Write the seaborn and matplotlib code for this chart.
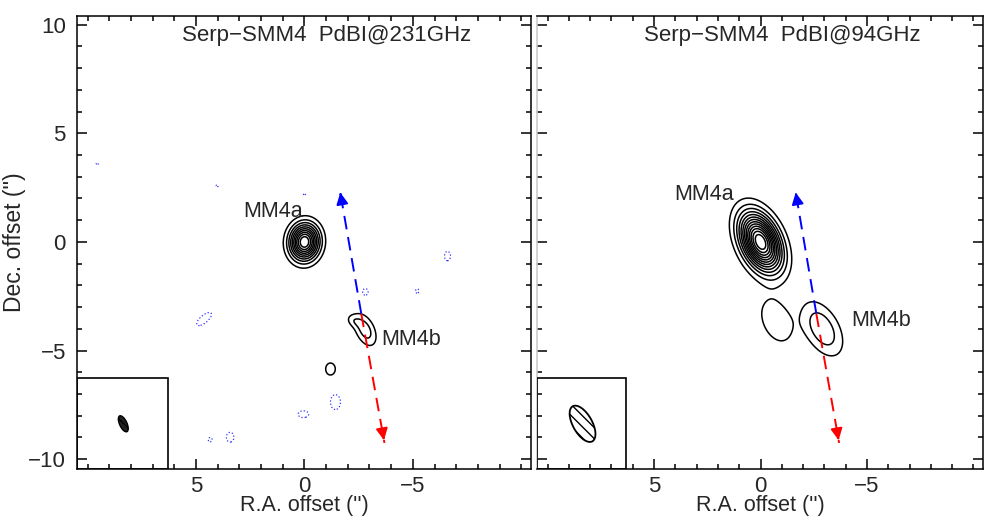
import numpy as np
import seaborn as sns
import matplotlib
matplotlib.use("Agg")
import matplotlib.pyplot as plt
from matplotlib.patches import Rectangle, Ellipse
from matplotlib.ticker import MultipleLocator

sns.set_style("white")
plt.rcParams['font.family'] = ['Liberation Sans', 'DejaVu Sans']

# sources: x, y ("), peak, fwhm major, fwhm minor ("), major-axis angle (deg, data frame)
src231_x = [0.0, -2.8, -2.25, -1.2]
src231_y = [0.0, -4.05, -3.62, -5.85]
src231_peak = [11.0, 2.6, 1.1, 1.3]
src231_fmaj = [1.3, 1.3, 0.6, 0.9]
src231_fmin = [1.05, 0.72, 0.45, 0.72]
src231_ang = [95, 65, 30, 90]

# negative (dotted) blobs in the 231 GHz map
neg231_x = [4.63, -1.43, 0.05, 3.43, 4.35, -2.81, -5.2, -6.6, 9.56, 4.03, 0.0]
neg231_y = [-3.55, -7.37, -7.93, -8.99, -9.1, -2.3, -2.26, -0.65, 3.6, 2.58, 2.2]
neg231_depth = [1.5, 1.5, 1.4, 1.4, 1.15, 1.25, 1.15, 1.3, 1.05, 1.05, 1.05]
neg231_fmaj = [1.1, 0.9, 0.7, 0.65, 0.45, 0.55, 0.45, 0.7, 0.4, 0.4, 0.4]
neg231_fmin = [0.45, 0.6, 0.45, 0.5, 0.4, 0.45, 0.35, 0.45, 0.3, 0.3, 0.3]
neg231_ang = [140, 90, 0, 90, 90, 90, 90, 90, 45, 45, 0]

src94_x = [0.0, -2.9, -0.74]
src94_y = [0.0, -4.0, -3.64]
src94_peak = [14.0, 2.9, 1.9]
src94_fmaj = [2.2, 2.2, 2.0]
src94_fmin = [1.3, 1.25, 1.25]
src94_ang = [65, 60, 65]

levels231 = [1, 2, 3, 4, 5, 6, 7, 8, 9, 10]
levels94 = [1, 2, 3, 4, 5, 6, 7, 8, 9, 10, 11, 12, 13]

titles = ["Serp\u2212SMM4  PdBI@231GHz", "Serp\u2212SMM4  PdBI@94GHz"]
beam_maj = [0.8, 1.86]
beam_min = [0.34, 0.9]
beam_ang = [65, 60]
beam_xy = (8.36, -8.37)

label_a = [(1.47, 1.38), (2.67, 2.2)]
label_b = [(-4.9, -4.5), (-5.67, -3.6)]

arrow_origin = (-2.62, -3.3)
arrow_blue = (-1.63, 2.4)
arrow_red = (-3.69, -9.25)

xlim = (10.5, -10.45)
ylim = (-10.45, 10.4)

gx = np.linspace(-11, 11, 600)
gy = np.linspace(-11, 11, 600)
X, Y = np.meshgrid(gx, gy)


def gauss_field(xs, ys, amps, fmaj, fmin, angs):
    Z = np.zeros_like(X)
    for x0, y0, a, f1, f2, th in zip(xs, ys, amps, fmaj, fmin, angs):
        t = np.deg2rad(th)
        u = (X - x0) * np.cos(t) + (Y - y0) * np.sin(t)
        v = -(X - x0) * np.sin(t) + (Y - y0) * np.cos(t)
        Z += a * np.exp(-4 * np.log(2) * (u ** 2 / f1 ** 2 + v ** 2 / f2 ** 2))
    return Z


Z231 = gauss_field(src231_x, src231_y, src231_peak, src231_fmaj, src231_fmin, src231_ang)
Z231 -= gauss_field(neg231_x, neg231_y, neg231_depth, neg231_fmaj, neg231_fmin, neg231_ang)
Z94 = gauss_field(src94_x, src94_y, src94_peak, src94_fmaj, src94_fmin, src94_ang)

fig = plt.figure(figsize=(9.86, 5.24), dpi=100)
ax1 = fig.add_axes([0.078, 0.105, 0.4605, 0.8645])
ax2 = fig.add_axes([0.5446, 0.105, 0.4524, 0.8645])

ax1.contour(X, Y, Z231, levels=levels231, colors='k', linewidths=1.1, linestyles='solid')
ax1.contour(X, Y, Z231, levels=[-1], colors='#3333ff', linewidths=0.9, linestyles=':')
ax2.contour(X, Y, Z94, levels=levels94, colors='k', linewidths=1.1, linestyles='solid')

for i, ax in enumerate([ax1, ax2]):
    ax.set_xlim(*xlim)
    ax.set_ylim(*ylim)
    ax.xaxis.set_major_locator(MultipleLocator(5))
    ax.xaxis.set_minor_locator(MultipleLocator(1))
    ax.yaxis.set_major_locator(MultipleLocator(5))
    ax.yaxis.set_minor_locator(MultipleLocator(1))
    ax.tick_params(which='both', direction='in', top=True, right=True, bottom=True, left=True,
                   width=1.1, color='k', labelsize=16, pad=8)
    ax.tick_params(axis='x', pad=5)
    ax.tick_params(which='major', length=7)
    ax.tick_params(which='minor', length=3.5)
    ax.set_xticks([5, 0, -5])
    ax.set_xticklabels(['5', '0', '\u22125'])
    for sp in ax.spines.values():
        sp.set_linewidth(1.1)
        sp.set_color('k')
    ax.set_xlabel("R.A. offset ('')", fontsize=15.5)
    ax.xaxis.set_label_coords(0.5, -0.057)
    ax.text(0.55, 0.957, titles[i], transform=ax.transAxes, ha='center', va='center', fontsize=16)

    # beam box
    ax.add_patch(Rectangle((6.3, ylim[0]), xlim[0] - 6.3, -6.27 - ylim[0], fill=False,
                           edgecolor='k', linewidth=1.2, zorder=3))
    if i == 0:
        ax.add_patch(Ellipse(beam_xy, beam_maj[i], beam_min[i], angle=beam_ang[i],
                             facecolor='#222222', edgecolor='k', linewidth=1.0, hatch='\\\\\\\\'))
    else:
        ax.add_patch(Ellipse(beam_xy, beam_maj[i], beam_min[i], angle=beam_ang[i],
                             facecolor='white', edgecolor='k', linewidth=1.3, hatch='\\\\\\'))

    ax.text(*label_a[i], "MM4a", fontsize=15.5, ha='center', va='center')
    ax.text(*label_b[i], "MM4b", fontsize=15.5, ha='center', va='center')

    # outflow arrows
    for tip, col in [(arrow_blue, 'blue'), (arrow_red, 'red')]:
        ax.plot([arrow_origin[0], tip[0]], [arrow_origin[1], tip[1]], color=col,
                lw=1.4, ls=(0, (7, 4)), zorder=4)
        dx = tip[0] - arrow_origin[0]
        dy = tip[1] - arrow_origin[1]
        ax.annotate("", xy=tip, xytext=(tip[0] - 0.06 * dx, tip[1] - 0.06 * dy),
                    arrowprops=dict(arrowstyle='-|>,head_length=0.7,head_width=0.35',
                                    color=col, lw=1.4), zorder=5)

ax1.set_yticks([10, 5, 0, -5, -10])
ax1.set_yticklabels(['10', '5', '0', '\u22125', '\u221210'])
ax1.set_ylabel("Dec. offset ('')", fontsize=16.5)
ax1.yaxis.set_label_coords(-0.112, 0.5)
ax2.tick_params(labelleft=False)
ax2.spines['left'].set_color('#c8c8c8')

fig.savefig("out.png", dpi=100)
